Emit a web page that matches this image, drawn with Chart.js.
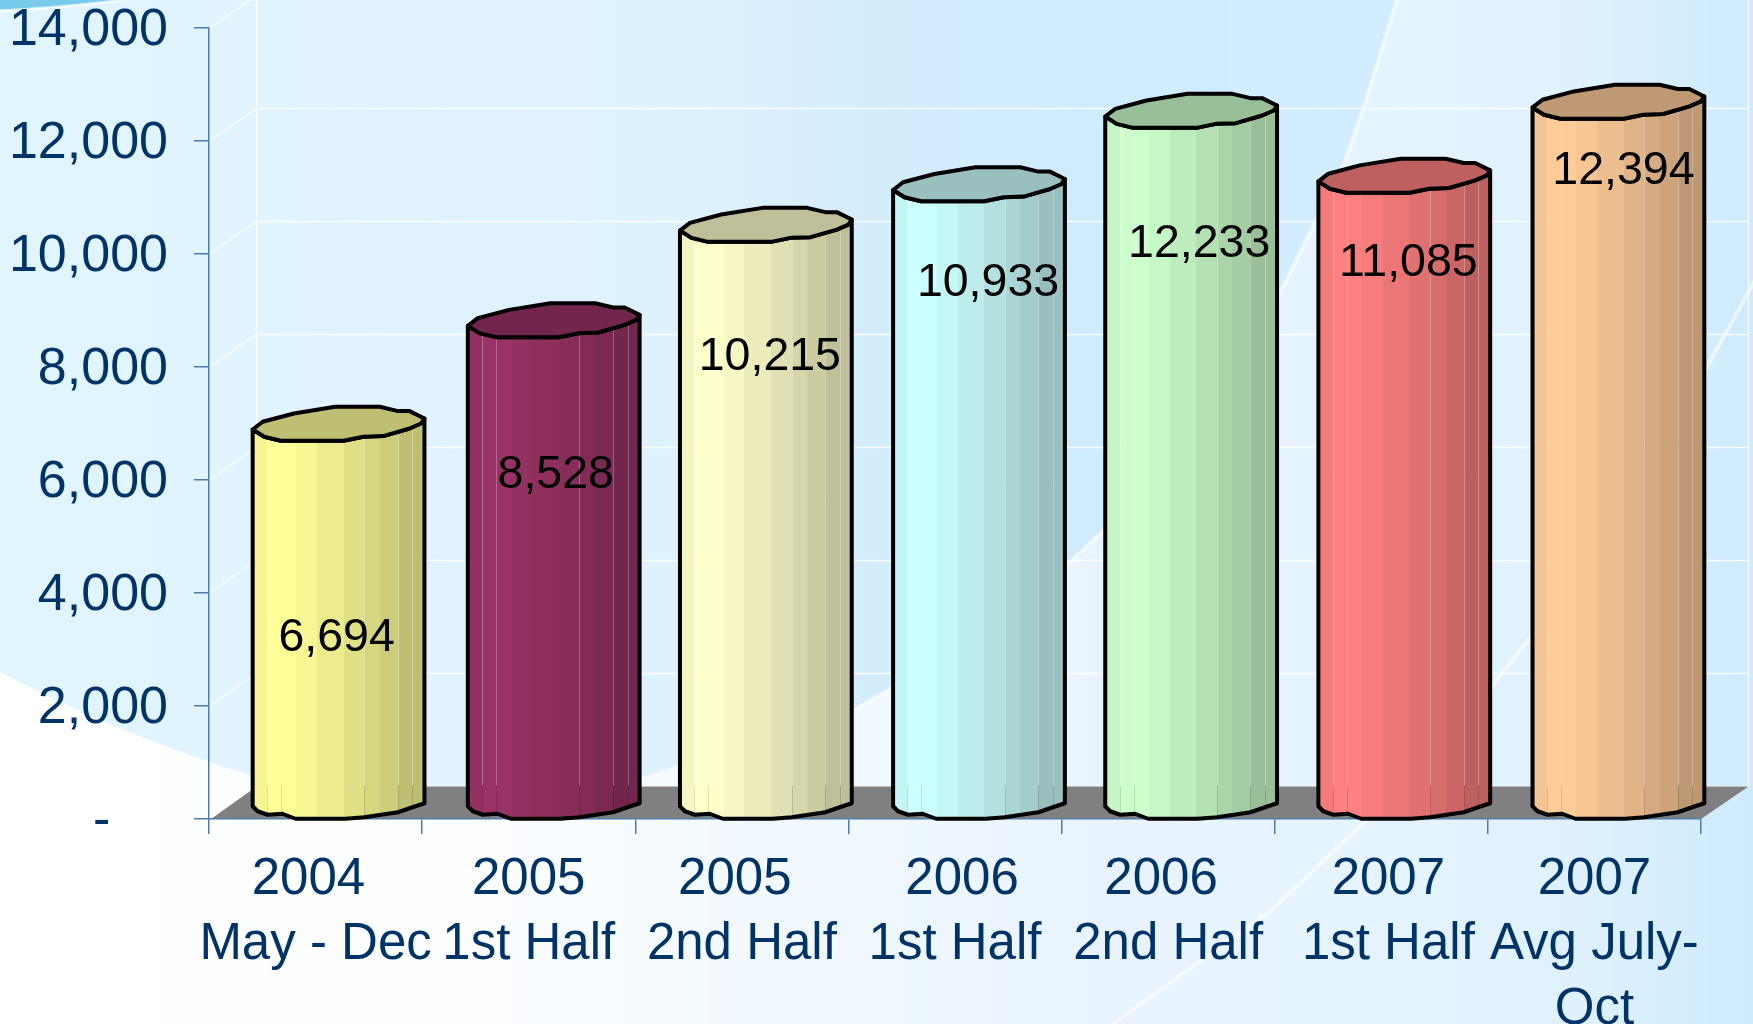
<!DOCTYPE html>
<html>
<head>
<meta charset="utf-8">
<style>html,body{margin:0;padding:0;background:#fff;overflow:hidden}canvas{display:block}</style>
<script src="https://cdn.jsdelivr.net/npm/chart.js@4/dist/chart.umd.min.js"></script>
</head>
<body>
<div style="width:1753px;height:1024px"><canvas id="c" width="1753" height="1024"></canvas></div>
<script>
const categories = [
  ['2004 ', 'May - Dec'],
  ['2005', '1st Half'],
  ['2005 ', '2nd Half'],
  [' 2006', '1st Half'],
  ['2006 ', '2nd Half'],
  [' 2007', ' 1st Half'],
  ['2007', 'Avg July-', 'Oct']
];
const values = [6694, 8528, 10215, 10933, 12233, 11085, 12394];
const barColors = ['#FFFF99', '#993366', '#FFFFCC', '#CCFFFF', '#CCFFCC', '#FF8080', '#FFCC99'];
const yTicks = [0, 2000, 4000, 6000, 8000, 10000, 12000, 14000];
// where each value label sits, in axis units, and its sideways nudge
const labelHeights = [3205, 6090, 8180, 9480, 10175, 9835, 11460];
const labelNudges = [-2, 2, 4, 9, 8, 4, 5];

const DEPTH_X = 47.5, DEPTH_Y = 32.6, BAR_SHIFT = 23;
const barShifts = [0, 2, 1, 1, 0, 0, 1];
const AXIS = '#4F7CA8', INK = '#003366';
const FONT = '"Liberation Sans", Arial, sans-serif';

// outline of a cylinder's rim and foot, as fractions of width / px from the value line
const rimTop = [[0,11.3],[.058,19],[.24,27.3],[.48,34],[.74,34],[.846,29.7],[.913,29.7],[1,22.3]];
const rimBottom = [[1,22.3],[.98,17.3],[.913,12.3],[.76,4.7],[.644,4],[.53,0],[.163,0],[.067,4],[0,11.3]];
const foot = [[1,15],[.93,11],[.846,6],[.65,1],[.54,-.5],[.25,-.5],[.173,4.5],[.087,3.5],[.029,7],[0,12]];
const stripeEdges = [0,.083,.255,.375,.53,.65,.74,.845,1];
const stripeShade = [.96,1,.97,.925,.88,.84,.8,.75];
const seams = [.083,.165,.65,.845,.93];

function shade(hex, k) {
  const n = parseInt(hex.slice(1), 16);
  return 'rgb(' + [n >> 16 & 255, n >> 8 & 255, n & 255].map(v => Math.round(v * k)).join(',') + ')';
}

// Each bar the library lays out is painted as a rough cylinder set back on the floor.
Chart.BarElement.prototype.draw = function (ctx) {
  const idx = barColors.indexOf(this.options.backgroundColor);
  const w = this.width, l = this.x - w / 2 + BAR_SHIFT + (barShifts[idx] || 0), top = this.y, base = this.base;
  const color = this.options.backgroundColor;
  ctx.save();
  const body = new Path2D();
  rimBottom.slice().reverse().forEach(([f, d], i) => { i ? body.lineTo(l + f * w, top - d) : body.moveTo(l + f * w, top - d); });
  foot.forEach(([f, d]) => body.lineTo(l + f * w, base - d));
  body.closePath();
  const g = ctx.createLinearGradient(l, 0, l + w, 0);
  stripeShade.forEach((k, i) => {
    g.addColorStop(stripeEdges[i], shade(color, k));
    g.addColorStop(stripeEdges[i + 1], shade(color, k));
  });
  ctx.fillStyle = g;
  ctx.fill(body);
  ctx.save();
  ctx.clip(body);
  ctx.lineWidth = 1;
  seams.forEach(f => {
    const sx = Math.round(l + f * w) + .5;
    ctx.strokeStyle = 'rgba(255,255,255,.28)';
    ctx.beginPath(); ctx.moveTo(sx, top - 40); ctx.lineTo(sx, base - DEPTH_Y); ctx.stroke();
    ctx.strokeStyle = 'rgba(0,0,0,.12)';
    ctx.beginPath(); ctx.moveTo(sx, base - DEPTH_Y); ctx.lineTo(sx, base); ctx.stroke();
  });
  ctx.restore();
  ctx.lineJoin = 'round';
  ctx.lineWidth = 4;
  ctx.strokeStyle = '#000';
  ctx.stroke(body);
  ctx.beginPath();
  rimTop.concat(rimBottom).forEach(([f, d], i) => { i ? ctx.lineTo(l + f * w, top - d) : ctx.moveTo(l + f * w, top - d); });
  ctx.closePath();
  ctx.fillStyle = shade(color, .75);
  ctx.fill();
  ctx.stroke();
  ctx.restore();
};

function trace(ctx, pts) { pts.forEach(([x, y], i) => i ? ctx.lineTo(x, y) : ctx.moveTo(x, y)); }

const backdrop = {
  id: 'backdrop',
  beforeDraw(chart) {
    const { ctx, width: W, height: H, chartArea: a, scales: { y } } = chart;
    const sweepEdge = [[1397,0],[1363,110],[1343,167],[1280,293],[1200,420],[1104,530],[1065,567],[892,688],[854,710],[678,765],[644,777]];
    const farStreak = [[1755,280],[1707,367],[1620,505],[1530,638],[1492,686],[1362,824],[1273,909],[1117,1021],[1110,1026]];
    ctx.save();
    // base wash
    let g = ctx.createLinearGradient(0, 0, 1400, 0);
    g.addColorStop(0, '#E1F5FF'); g.addColorStop(.5, '#DEF1FE'); g.addColorStop(.6, '#D5EDFC'); g.addColorStop(.77, '#CFECFF'); g.addColorStop(1, '#D2EDFF');
    ctx.fillStyle = g; ctx.fillRect(0, 0, W, H);
    // pale sweep
    g = ctx.createLinearGradient(0, 0, W, 0);
    g.addColorStop(0, '#FFFFFF'); g.addColorStop(.285, '#FBFDFF'); g.addColorStop(.37, '#F5FBFF'); g.addColorStop(.5, '#EFF8FE');
    g.addColorStop(.63, '#E9F3FF'); g.addColorStop(.8, '#E4F4FF'); g.addColorStop(.9, '#DFF1FE'); g.addColorStop(1, '#CDEBFD');
    ctx.fillStyle = g;
    ctx.beginPath();
    ctx.moveTo(0, 672);
    ctx.quadraticCurveTo(120, 735, 250, 775);
    ctx.quadraticCurveTo(400, 795, 520, 795);
    sweepEdge.slice().reverse().forEach(([x, yy]) => ctx.lineTo(x, yy));
    ctx.lineTo(W, 0); ctx.lineTo(W, H); ctx.lineTo(0, H);
    ctx.closePath(); ctx.fill();
    // corner swoosh
    ctx.fillStyle = '#79CBEE';
    ctx.beginPath(); ctx.moveTo(0, 0); ctx.lineTo(125, 0); ctx.quadraticCurveTo(60, 8, 0, 10); ctx.closePath(); ctx.fill();
    ctx.strokeStyle = 'rgba(255,255,255,.75)'; ctx.lineWidth = 3;
    ctx.beginPath(); ctx.moveTo(125, 0); ctx.quadraticCurveTo(60, 8, 0, 11); ctx.stroke();
    // streaks
    ctx.lineCap = 'round'; ctx.lineJoin = 'round';
    ctx.strokeStyle = 'rgba(255,255,255,.6)'; ctx.lineWidth = 4;
    ctx.beginPath(); trace(ctx, sweepEdge.slice(0, 9)); ctx.stroke();
    ctx.beginPath(); trace(ctx, farStreak); ctx.stroke();

    // back wall rules, side diagonals and floor, placed from the value axis
    const bx = a.left + DEPTH_X, rx = a.right + DEPTH_X, floorY = y.getPixelForValue(0) - DEPTH_Y;
    ctx.lineCap = 'butt';
    ctx.strokeStyle = 'rgba(255,255,255,.85)'; ctx.lineWidth = 1.5;
    yTicks.forEach(t => {
      const py = y.getPixelForValue(t);
      ctx.beginPath(); ctx.moveTo(a.left + .5, py); ctx.lineTo(bx, py - DEPTH_Y); ctx.lineTo(rx, py - DEPTH_Y); ctx.stroke();
    });
    ctx.beginPath(); ctx.moveTo(bx, 0); ctx.lineTo(bx, floorY); ctx.stroke();
    ctx.beginPath(); ctx.moveTo(rx, 0); ctx.lineTo(rx, floorY); ctx.stroke();
    ctx.fillStyle = '#808080';
    ctx.beginPath();
    ctx.moveTo(a.left + 2, floorY + DEPTH_Y); ctx.lineTo(bx, floorY); ctx.lineTo(rx, floorY); ctx.lineTo(a.right, floorY + DEPTH_Y);
    ctx.closePath(); ctx.fill();
    ctx.restore();
  }
};

const valueLabels = {
  id: 'valueLabels',
  afterDatasetsDraw(chart) {
    const { ctx, scales: { y } } = chart;
    const bars = chart.getDatasetMeta(0).data;
    ctx.save();
    ctx.font = '46.5px ' + FONT;
    ctx.fillStyle = '#000';
    ctx.textAlign = 'center';
    ctx.textBaseline = 'middle';
    bars.forEach((b, i) => {
      ctx.fillText(values[i].toLocaleString('en-US'), b.x + BAR_SHIFT + labelNudges[i] + barShifts[i], y.getPixelForValue(labelHeights[i]));
    });
    ctx.restore();
  }
};

new Chart(document.getElementById('c'), {
  type: 'bar',
  data: {
    labels: categories,
    datasets: [{ data: values, backgroundColor: barColors, categoryPercentage: 1, barPercentage: 0.806, clip: false }]
  },
  options: {
    responsive: false,
    animation: false,
    layout: { padding: { top: 28, right: 52, left: 0, bottom: 0 } },
    plugins: { legend: { display: false }, tooltip: { enabled: false } },
    scales: {
      x: {
        afterFit(s) { s.height = 205; s.paddingLeft = 0; s.paddingRight = 0; },
        grid: { drawOnChartArea: false, drawTicks: true, tickLength: 15, color: AXIS, lineWidth: 1.5 },
        border: { color: AXIS, width: 1.5 },
        ticks: { autoSkip: false, maxRotation: 0, minRotation: 0, padding: 13, color: INK, font: { family: FONT, size: 51, lineHeight: 1.275 } }
      },
      y: {
        min: 0, max: 14000,
        afterFit(s) { s.width = 209; s.paddingTop = 0; s.paddingBottom = 0; },
        afterBuildTicks(s) { s.ticks = yTicks.map(v => ({ value: v })); },
        grid: { drawOnChartArea: false, drawTicks: true, tickLength: 15, color: AXIS, lineWidth: 1.5 },
        border: { color: AXIS, width: 1.5 },
        ticks: {
          padding: 26, labelOffset: 3, color: INK, font: { family: FONT, size: 52 },
          callback: v => v === 0 ? '-    ' : v.toLocaleString('en-US')
        }
      }
    }
  },
  plugins: [backdrop, valueLabels]
});
</script>
</body>
</html>
